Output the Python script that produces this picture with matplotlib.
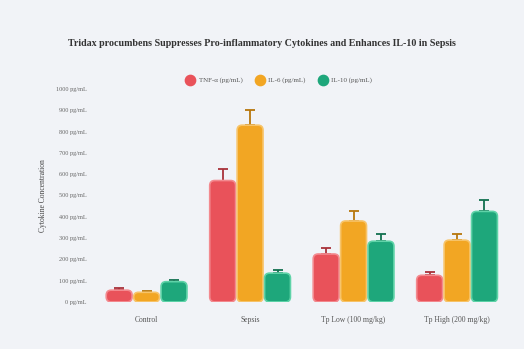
import numpy as np
import matplotlib.pyplot as plt
from matplotlib.patches import FancyBboxPatch

plt.rcParams['font.family'] = ['Liberation Serif', 'DejaVu Serif']

# data
groups = ['Control', 'Sepsis', 'Tp Low (100 mg/kg)', 'Tp High (200 mg/kg)']
series = ['TNF-α (pg/mL)', 'IL-6 (pg/mL)', 'IL-10 (pg/mL)']
tnf = [55, 570, 225, 125]
il6 = [45, 830, 380, 290]
il10 = [95, 135, 285, 425]
tnf_err = [8, 55, 28, 15]
il6_err = [6, 70, 47, 28]
il10_err = [10, 15, 35, 52]
yticks = [0, 100, 200, 300, 400, 500, 600, 700, 800, 900, 1000]

colors = ['#e9525a', '#f2a623', '#1ea77b']
edge = ['#f38a8f', '#f7c46a', '#5fd3a8']
errc = ['#a8323a', '#b7760c', '#12704f']

fig = plt.figure(figsize=(5.24, 3.49), dpi=100, facecolor='#f1f3f7')
ax = fig.add_axes([0.181, 0.135, 0.79, 0.61])
ax.set_facecolor('#f1f3f7')

x = np.arange(len(groups))
w = 0.25
gap = 0.265
vals = [tnf, il6, il10]
errs = [tnf_err, il6_err, il10_err]

ax.set_xlim(-0.5, len(groups) - 0.5)
ax.set_ylim(0, 1000)

# px -> data conversions for rounded corners
fig.canvas.draw()
bb = ax.get_window_extent()
xpp = (len(groups)) / bb.width
ypp = 1000 / bb.height
aspect = ypp / xpp

for i in range(3):
    xs = x + (i - 1) * gap
    ax.errorbar(xs, vals[i], yerr=[np.zeros(len(groups)), errs[i]], fmt='none',
                ecolor=errc[i], elinewidth=1.3, capsize=3.5, capthick=1.3, zorder=1)
    for xx, v in zip(xs, vals[i]):
        rpx = min(5, v / ypp / 2)
        p = FancyBboxPatch((xx - w / 2, 0), w, v,
                           boxstyle="round,pad=0,rounding_size=%f" % (rpx * xpp),
                           mutation_aspect=aspect, zorder=2,
                           facecolor=colors[i], edgecolor=edge[i], linewidth=1.2)
        ax.add_patch(p)
    ax.scatter([], [], marker='o', s=55, color=colors[i], label=series[i])

ax.set_xticks(x)
ax.set_xticklabels(groups, fontsize=5.5, color='#555555')
ax.set_yticks(yticks)
ax.set_yticklabels(['%d pg/mL' % t for t in yticks], fontsize=4.5, color='#666666')
ax.tick_params(length=0, pad=6)
ax.tick_params(axis='x', pad=10)
for s in ax.spines.values():
    s.set_visible(False)

ax.set_ylabel('Cytokine Concentration', fontsize=5.5, color='#444444', labelpad=6)

fig.text(0.5, 0.875, 'Tridax procumbens Suppresses Pro-inflammatory Cytokines and Enhances IL-10 in Sepsis',
         ha='center', va='center', fontsize=7.2, fontweight='bold', color='#333333')
fig.legend(loc='center', bbox_to_anchor=(0.53, 0.77), ncol=3, frameon=False,
           fontsize=5, handletextpad=0.2, columnspacing=1.5, labelcolor='#555555')

fig.savefig('out.png', dpi=100, facecolor=fig.get_facecolor())
